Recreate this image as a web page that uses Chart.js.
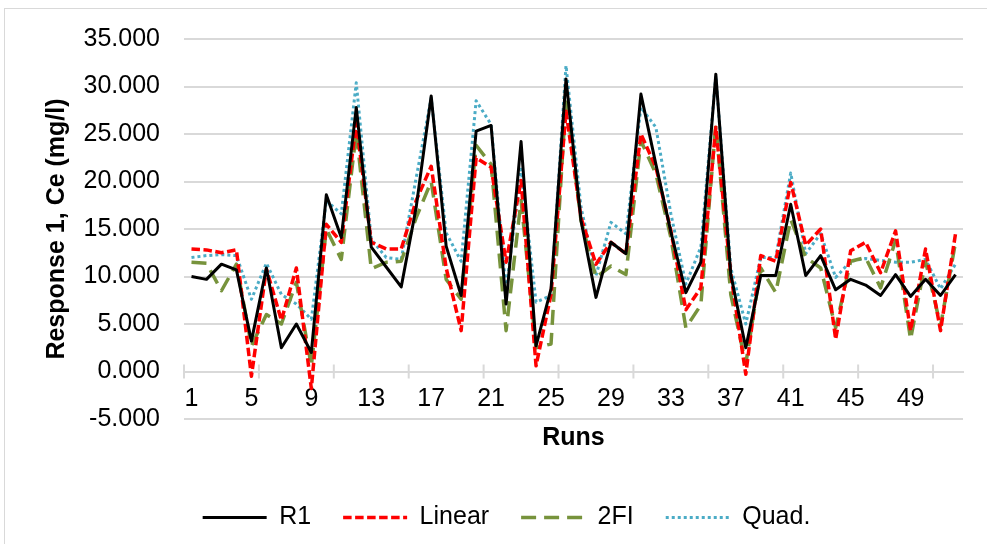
<!DOCTYPE html>
<html>
<head>
<meta charset="utf-8">
<script src="https://cdn.jsdelivr.net/npm/chart.js@4.4.1/dist/chart.umd.min.js"></script>
<style>
    html, body { margin: 0; padding: 0; background: #fff; }
    #wrap { width: 987px; height: 544px; }
</style>
</head>
<body>
<div id="wrap"><canvas id="runsChart" width="987" height="544"></canvas></div>
<script>
const runs = [1, 2, 3, 4, 5, 6, 7, 8, 9, 10, 11, 12, 13, 14, 15, 16, 17, 18, 19, 20, 21, 22, 23, 24, 25, 26,
    27, 28, 29, 30, 31, 32, 33, 34, 35, 36, 37, 38, 39, 40, 41, 42, 43, 44, 45, 46, 47, 48, 49, 50, 51, 52];

const r1Values = [10.0, 9.7, 11.3, 10.7, 3.2, 10.9, 2.5, 5.0, 2.0, 18.6, 14.1, 27.8, 13.1, 11.0, 8.9, 17.3, 29.0,
    13.2, 8.0, 25.3, 25.9, 7.1, 24.2, 2.7, 8.7, 30.8, 15.9, 7.8, 13.6, 12.4, 29.2, 21.8, 14.7, 8.3, 11.5, 31.3,
    10.2, 2.5, 10.1, 10.1, 17.6, 10.1, 12.2, 8.6, 9.7, 9.1, 8.0, 10.2, 7.9, 9.7, 8.0, 10.2];

const linearValues = [12.9, 12.8, 12.5, 12.8, -0.5, 10.8, 5.4, 10.9, -1.8, 15.5, 13.6, 26.2, 13.6, 12.9, 12.9, 18.0,
    21.6, 10.9, 4.3, 22.5, 21.5, 11.5, 20.1, 0.6, 8.1, 27.4, 16.2, 11.3, 13.6, 12.4, 25.0, 21.5, 14.8, 6.5, 8.8,
    25.7, 10.2, -0.3, 12.2, 11.6, 19.9, 13.3, 15.0, 3.4, 12.7, 13.6, 10.4, 14.8, 4.3, 12.9, 4.3, 14.5];

const twoFiValues = [11.5, 11.4, 8.5, 11.3, 2.7, 6.0, 5.0, 9.4, 0.6, 15.0, 11.8, 25.2, 10.8, 11.5, 11.6, 16.2, 20.0,
    9.7, 7.6, 23.8, 21.8, 4.3, 18.0, 2.5, 2.9, 28.8, 15.9, 9.9, 11.1, 10.2, 24.3, 20.8, 14.1, 4.6, 7.0, 26.0,
    8.1, 0.8, 10.9, 8.3, 16.0, 12.0, 10.9, 4.6, 11.6, 12.0, 8.8, 13.8, 3.4, 11.6, 4.8, 13.6];

const quadValues = [12.0, 12.2, 12.3, 12.2, 7.6, 11.4, 8.1, 7.1, 5.5, 18.0, 16.6, 30.4, 13.9, 12.0, 11.8, 20.4, 28.8,
    14.6, 11.6, 28.5, 26.0, 8.5, 21.3, 7.3, 8.0, 32.2, 17.3, 10.1, 15.7, 14.5, 27.8, 25.7, 16.6, 9.2, 13.1, 31.1,
    10.9, 5.0, 12.0, 12.0, 20.9, 12.4, 14.5, 9.9, 11.6, 11.9, 11.7, 11.5, 11.5, 11.8, 8.7, 11.3];

const seriesNames = ['R1', 'Linear', '2FI', 'Quad.'];
const labelEvery = 4;
const tickMarkEvery = 5;

const FONT = "'Liberation Sans', Arial, sans-serif";
const GRID = '#d9d9d9';

// white page + thin frame round the whole chart
const framePlugin = {
    id: 'frame',
    beforeDraw(chart) {
        const ctx = chart.ctx;
        ctx.save();
        ctx.fillStyle = '#fff';
        ctx.fillRect(0, 0, chart.width, chart.height);
        ctx.strokeStyle = GRID;
        ctx.lineWidth = 1;
        ctx.strokeRect(4.5, 8.5, chart.width + 10, chart.height + 10);
        ctx.restore();
    }
};

// small tick marks crossing the x axis line, every 5 categories
const axisMarksPlugin = {
    id: 'axisMarks',
    beforeDatasetsDraw(chart) {
        const xs = chart.scales.x;
        const y0 = chart.scales.y.getPixelForValue(0);
        const ctx = chart.ctx;
        ctx.save();
        ctx.strokeStyle = GRID;
        ctx.lineWidth = 2;
        ctx.beginPath();
        for (let k = 0; k < runs.length; k += tickMarkEvery) {
            const x = xs.getPixelForValue(k - 0.5);
            ctx.moveTo(x, y0 - 7);
            ctx.lineTo(x, y0 + 7);
        }
        ctx.stroke();
        ctx.restore();
    }
};

new Chart(document.getElementById('runsChart').getContext('2d'), {
    type: 'line',
    data: {
        labels: runs,
        datasets: [{
            label: seriesNames[0],
            data: r1Values,
            borderColor: '#000000',
            borderWidth: 3
        }, {
            label: seriesNames[1],
            data: linearValues,
            borderColor: '#ff0000',
            borderWidth: 3.5,
            borderDash: [8.5, 3.5]
        }, {
            label: seriesNames[2],
            data: twoFiValues,
            borderColor: '#77933c',
            borderWidth: 3.5,
            borderDash: [15, 8]
        }, {
            label: seriesNames[3],
            data: quadValues,
            borderColor: '#4bacc6',
            borderWidth: 3,
            borderDash: [3, 3]
        }]
    },
    options: {
        responsive: false,
        animation: false,
        elements: {
            point: { radius: 0 },
            line: { tension: 0, fill: false, borderJoinStyle: 'round' }
        },
        layout: { padding: { left: 50, right: 24, top: 38, bottom: 4 } },
        scales: {
            x: {
                position: { y: 0 },
                offset: true,
                grid: { display: false },
                border: { display: true, color: GRID, width: 2 },
                ticks: {
                    autoSkip: false,
                    maxRotation: 0,
                    padding: 5,
                    color: '#000',
                    font: { family: FONT, size: 25 },
                    callback: (val, i) => (i % labelEvery === 0 ? String(runs[i]) : '')
                },
                title: {
                    display: true,
                    text: 'Runs',
                    color: '#000',
                    font: { family: FONT, size: 25, weight: 'bold' },
                    padding: { top: 4, bottom: 0 }
                }
            },
            y: {
                min: -5,
                max: 35,
                afterFit: scale => { scale.width = 134; },
                grid: { color: GRID, lineWidth: 2, drawTicks: false },
                border: { display: false },
                ticks: {
                    stepSize: 5,
                    padding: 24,
                    color: '#000',
                    font: { family: FONT, size: 25 },
                    callback: v => v.toFixed(3)
                },
                title: {
                    display: true,
                    text: 'Response 1, Ce (mg/l)',
                    color: '#000',
                    font: { family: FONT, size: 25, weight: 'bold' },
                    padding: { top: -8, bottom: 0 }
                }
            }
        },
        plugins: {
            legend: {
                position: 'bottom',
                title: { display: true, text: '', padding: { top: 44, bottom: 0 }, font: { size: 10, lineHeight: 1 } },
                labels: {
                    usePointStyle: true,
                    pointStyle: 'line',
                    pointStyleWidth: 64,
                    padding: 32,
                    color: '#000',
                    font: { family: FONT, size: 25 },
                    generateLabels: chart => {
                        const items = Chart.defaults.plugins.legend.labels.generateLabels(chart);
                        return items.map(item => {
                            const ds = chart.data.datasets[item.datasetIndex];
                            item.lineDash = ds.borderDash || [];
                            item.lineWidth = ds.borderWidth;
                            item.strokeStyle = ds.borderColor;
                            return item;
                        });
                    }
                }
            },
            tooltip: { enabled: false }
        }
    },
    plugins: [framePlugin, axisMarksPlugin]
});
</script>
</body>
</html>
